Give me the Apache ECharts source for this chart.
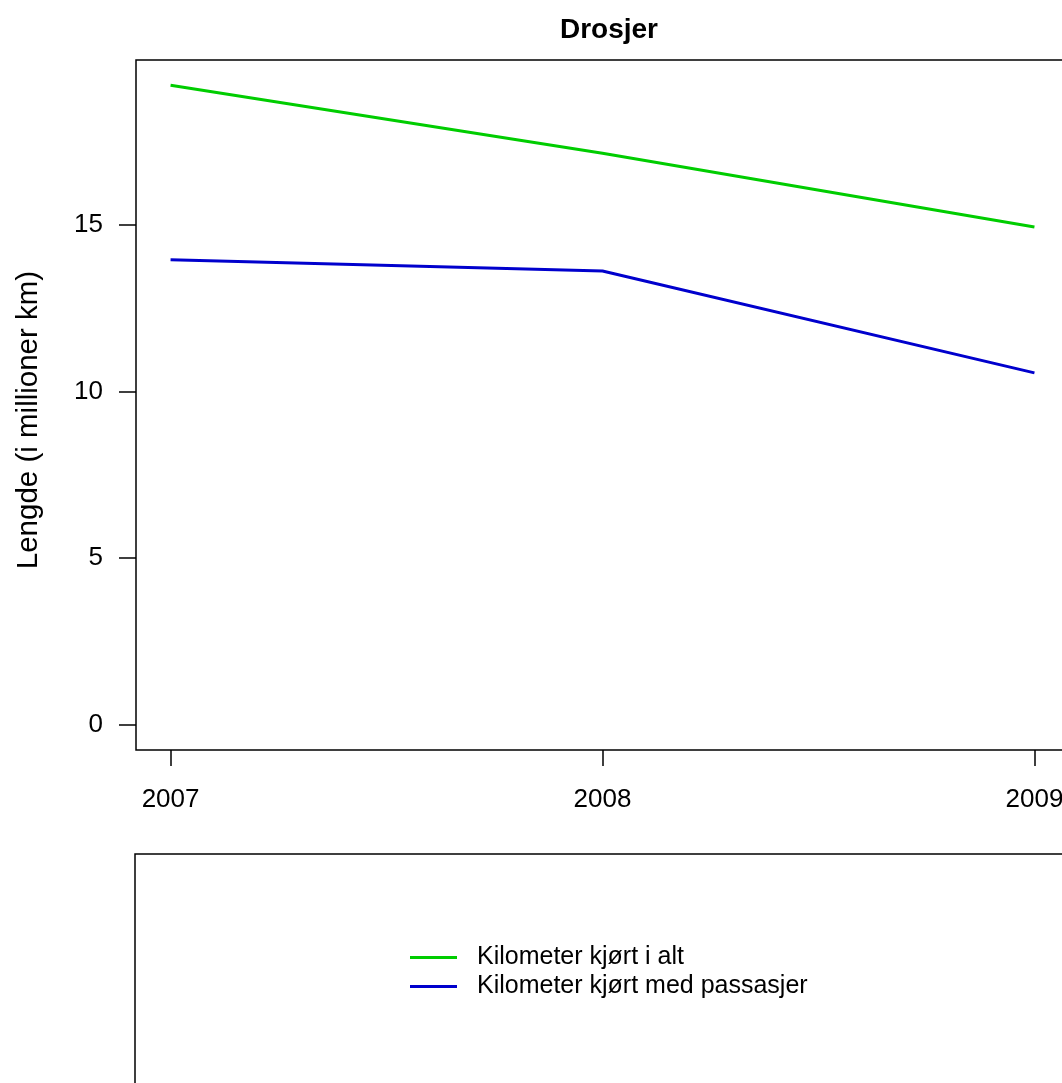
<!DOCTYPE html>
<html>
<head>
<meta charset="utf-8">
<script src="https://cdn.jsdelivr.net/npm/echarts@6/dist/echarts.min.js"></script>
<style>
html,body{margin:0;padding:0;overflow:hidden;background:#fff;}
#chart{width:1070px;height:1083px;}
</style>
</head>
<body>
<div id="chart"></div>
<script>
const years = [2007, 2008, 2009];
const kmTotal = [19.2, 17.16, 14.94];
const kmPassenger = [13.96, 13.62, 10.56];
const yTicks = [0, 5, 10, 15];
const seriesNames = ['Kilometer kjørt i alt', 'Kilometer kjørt med passasjer'];
const titleText = 'Drosjer';
const yTitle = 'Lengde (i millioner km)';

const font = 'Liberation Sans, Arial, Helvetica, sans-serif';
const chart = echarts.init(document.getElementById('chart'), null, {renderer: 'canvas'});
chart.setOption({
  animation: false,
  backgroundColor: '#fff',
  title: {
    text: titleText, left: 604, top: 11, textAlign: 'center',
    textStyle: {fontFamily: font, fontWeight: 'bold', fontSize: 28, color: '#000'}
  },
  grid: {left: 136, top: 60, width: 933, height: 690, show: true, borderColor: '#000', borderWidth: 1.5, backgroundColor: 'transparent'},
  legend: {
    orient: 'vertical', left: 410, top: 943, itemGap: 0, itemWidth: 47, itemHeight: 3, padding: 0,
    icon: 'rect',
    data: seriesNames,
    textStyle: {fontFamily: font, fontSize: 25, color: '#000', lineHeight: 29, padding: [0, 0, 0, 15]}
  },
  xAxis: {
    type: 'value', min: 2006.92, max: 2009.08,
    axisLine: {show: false, onZero: false},
    splitLine: {show: false},
    axisTick: {show: true, customValues: years, length: 16, inside: false, lineStyle: {color: '#000', width: 1.5}},
    axisLabel: {customValues: years, margin: 37, fontFamily: font, fontSize: 26, color: '#000', formatter: v => String(v)}
  },
  yAxis: {
    type: 'value', min: -0.77, max: 19.96,
    name: yTitle, nameLocation: 'middle', nameGap: 92,
    nameTextStyle: {fontFamily: font, fontSize: 29.5, color: '#000', padding: [0, 30, 0, 0]},
    axisLine: {show: false, onZero: false},
    splitLine: {show: false},
    axisTick: {show: true, customValues: yTicks, length: 17, lineStyle: {color: '#000', width: 1.5}},
    axisLabel: {customValues: yTicks, margin: 33, fontFamily: font, fontSize: 26, color: '#000', formatter: v => String(v)}
  },
  graphic: [{
    type: 'rect', silent: true,
    shape: {x: 135, y: 854, width: 1000, height: 400},
    style: {fill: 'none', stroke: '#000', lineWidth: 1.5}
  }],
  series: [
    {name: seriesNames[0], type: 'line', symbol: 'none', color: '#00CD00', lineStyle: {width: 3, color: '#00CD00'},
     data: years.map((y, i) => [y, kmTotal[i]])},
    {name: seriesNames[1], type: 'line', symbol: 'none', color: '#0000CD', lineStyle: {width: 3, color: '#0000CD'},
     data: years.map((y, i) => [y, kmPassenger[i]])}
  ]
});
</script>
</body>
</html>
